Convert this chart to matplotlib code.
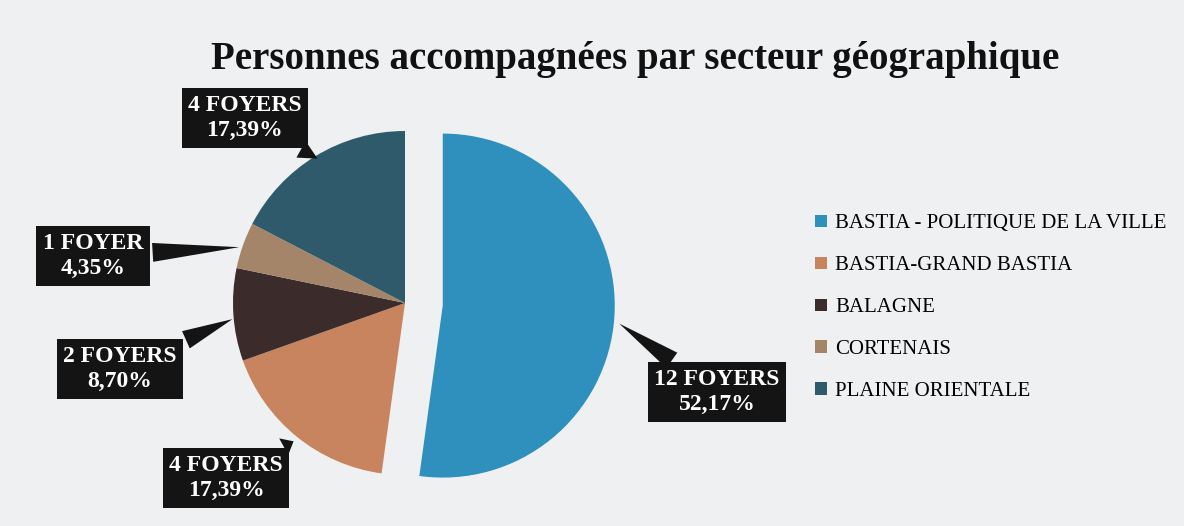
import matplotlib
matplotlib.use("Agg")
import matplotlib.pyplot as plt
from matplotlib.patches import Patch

categories = ["BASTIA - POLITIQUE DE LA VILLE", "BASTIA-GRAND BASTIA", "BALAGNE",
              "CORTENAIS", "PLAINE ORIENTALE"]
foyers = [12, 4, 2, 1, 4]
colors = ["#2f8fbd", "#c7845e", "#3b2b2a", "#a58569", "#2e5a6b"]
title = "Personnes accompagnées par secteur géographique"

W, H = 1184, 526
fig = plt.figure(figsize=(W / 100, H / 100), dpi=100)
fig.patch.set_facecolor("#eff0f2")
ax = fig.add_axes([0, 0, 1, 1])

R = 172
wedges, _ = ax.pie(foyers, colors=colors, startangle=90, counterclock=False,
                   center=(405, H - 303), radius=R,
                   explode=[0.22 * R, 0, 0, 0, 0], wedgeprops=dict(linewidth=0))
ax.set_xlim(0, W)
ax.set_ylim(0, H)
ax.set_aspect("equal")
ax.axis("off")

serif = ["Liberation Serif", "DejaVu Serif"]
ax.text(635, H - 60, title, ha="center", va="center",
        fontsize=28, fontweight="bold", family=serif, color="#111111")

total = sum(foyers)
# label box centers and arrow tips (pixel coords, y from top)
box_pos = [(717, 392), (226, 478), (120, 369), (93, 256), (245, 118)]
tips = [(617, 322), (296, 440), (235, 318), (242, 247), (320, 160)]
for n, bp, tp in zip(foyers, box_pos, tips):
    word = "FOYER" if n == 1 else "FOYERS"
    pct = f"{100 * n / total:.2f}".replace(".", ",") + "%"
    ax.annotate(f"{n} {word}\n{pct}", xy=(tp[0], H - tp[1]),
                xytext=(bp[0], H - bp[1]), ha="center", va="center",
                fontsize=17, fontweight="bold", family=serif, color="white",
                linespacing=1.3,
                bbox=dict(boxstyle="square,pad=0.28", fc="#141414", ec="none"),
                arrowprops=dict(arrowstyle="wedge,tail_width=0.8,shrink_factor=0.5",
                                fc="#141414", ec="none"))

handles = [Patch(facecolor=c, edgecolor="none") for c in colors]
leg = ax.legend(handles, categories, loc="upper left",
                bbox_to_anchor=(807 / W, 1 - 206 / H), bbox_transform=fig.transFigure,
                frameon=False, prop=dict(family=serif, size=15),
                handlelength=0.55, handleheight=0.55, handletextpad=0.4,
                labelspacing=1.1, borderaxespad=0)

fig.savefig("out.png", dpi=100, facecolor=fig.get_facecolor())
